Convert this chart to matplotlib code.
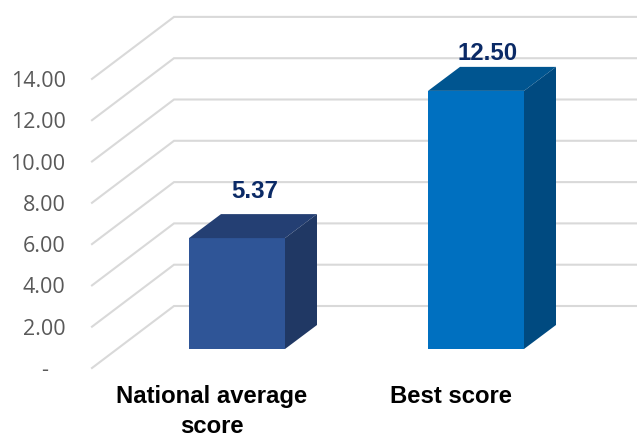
#!/usr/bin/python3
import matplotlib
matplotlib.use('Agg')
import matplotlib.pyplot as plt
import numpy as np
from matplotlib.patches import Polygon

#### Data. ####
categories = ["National average\nscore", "Best score"]
scores = [5.37, 12.50]
score_labels = ["5.37", "12.50"]
y_ticks = [0, 2, 4, 6, 8, 10, 12, 14]
y_tick_labels = ["-   ", "2.00", "4.00", "6.00", "8.00", "10.00", "12.00", "14.00"]

front_colors = ["#2f5597", "#0070c0"]
top_colors = ["#243f73", "#005590"]
side_colors = ["#203864", "#004a80"]

#### Pixel scale of the chart. ####
W, H = 637, 433
PX_X = 239.0                   # px per category
PX_Y = 20.65                   # px per score unit
FLOOR_PX = 368                 # y pixel of value 0 on the front edge
LEFT_PX = 92                   # x pixel of the front edge
CAT0_PX = 237                  # x pixel of first bar centre

x_min = (LEFT_PX - CAT0_PX) / PX_X
x_max = (W - CAT0_PX) / PX_X
y_max = FLOOR_PX / PX_Y

wall_dx, wall_dy = 82 / PX_X, 62 / PX_Y
bar_width = 96 / PX_X
bar_base = 19 / PX_Y
bar_dx, bar_dy = 32 / PX_X, 24 / PX_Y

fig = plt.figure(figsize=(W / 100, H / 100), dpi=100)
ax = fig.add_axes([LEFT_PX / W, (H - FLOOR_PX) / H, (W - LEFT_PX) / W, FLOOR_PX / H])
ax.set_xlim(x_min, x_max)
ax.set_ylim(0, y_max)
for s in ax.spines.values():
    s.set_visible(False)
ax.patch.set_alpha(0)

#### Grid on floor and back wall. ####
for v in y_ticks:
    ax.plot([x_min, x_min + wall_dx, x_max], [v, v + wall_dy, v + wall_dy],
            color="#d9d9d9", lw=1.5, zorder=1, clip_on=False, solid_joinstyle="miter")

#### Bars. ####
x_pos = np.arange(len(categories))
ax.bar(x_pos, scores, width=bar_width, bottom=bar_base, color=front_colors,
       edgecolor="none", zorder=3)
for i, v in enumerate(scores):
    x0 = x_pos[i] - bar_width / 2
    x1 = x_pos[i] + bar_width / 2
    y0 = bar_base
    y1 = bar_base + v
    ax.add_patch(Polygon([(x0, y1), (x1, y1), (x1 + bar_dx, y1 + bar_dy), (x0 + bar_dx, y1 + bar_dy)],
                         closed=True, facecolor=top_colors[i], edgecolor="none", zorder=3))
    ax.add_patch(Polygon([(x1, y0), (x1 + bar_dx, y0 + bar_dy), (x1 + bar_dx, y1 + bar_dy), (x1, y1)],
                         closed=True, facecolor=side_colors[i], edgecolor="none", zorder=3))

#### Value labels. ####
label_dx = [18, 12]
label_dy = [47, 37]
for i, v in enumerate(scores):
    ax.annotate(score_labels[i], (x_pos[i], bar_base + v),
                xytext=(label_dx[i] * 0.72, label_dy[i] * 0.72), textcoords="offset points",
                ha="center", va="center", fontsize=17.3, fontweight="bold",
                family="Liberation Sans", color="#0b2a66", zorder=5)

#### Axis labels. ####
ax.set_yticks(y_ticks)
ax.set_yticklabels(y_tick_labels, fontsize=15.5, family="Open Sans", color="#595959")
ax.tick_params(axis="y", length=0, pad=19)
ax.set_xticks(x_pos - 25 / PX_X)
ax.set_xticklabels(categories, fontsize=17.2, fontweight="bold", family="Liberation Sans",
                   color="black", linespacing=1.42)
ax.tick_params(axis="x", length=0, pad=12)

fig.savefig("out.png", dpi=100)
